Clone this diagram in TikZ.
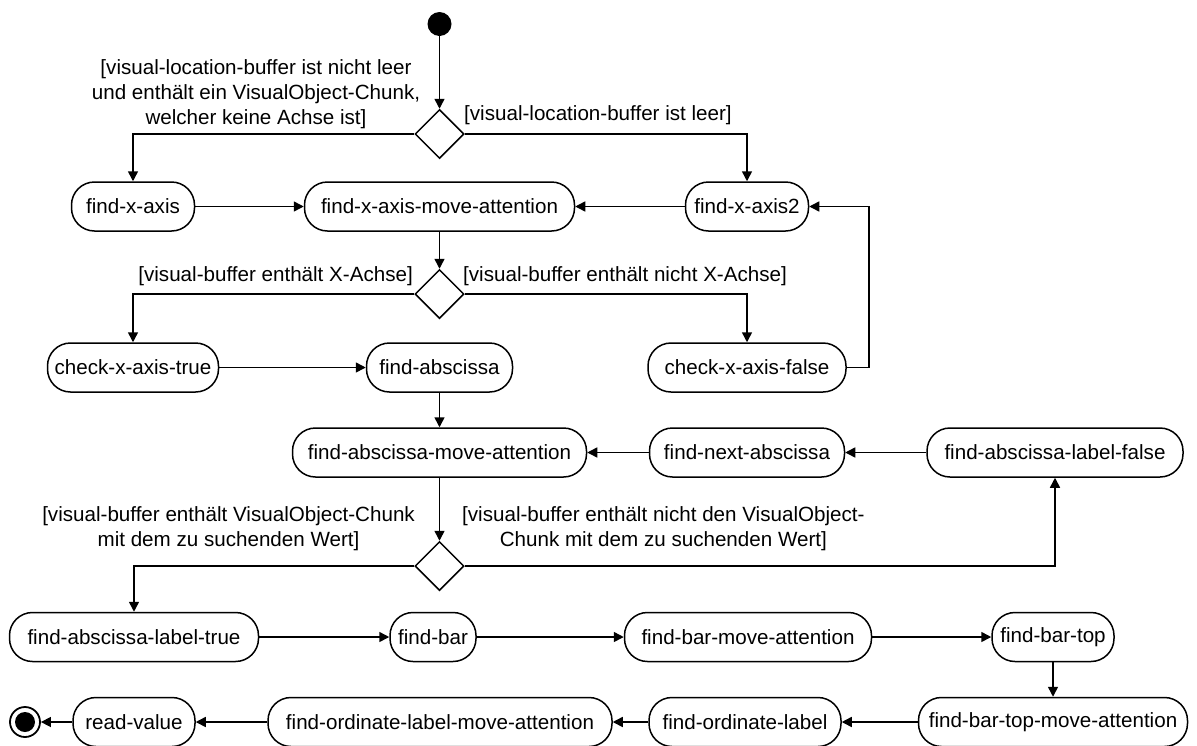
\documentclass[tikz,border=0pt]{standalone}
\usepackage{fontspec}
\setmainfont{Liberation Sans}
\usetikzlibrary{arrows.meta, shapes.geometric}

\begin{document}
\begin{tikzpicture}[
    x=1pt, y=-1pt,
    act/.style={rectangle, draw=black, line width=1.5pt, minimum height=49pt,
                rounded corners=23pt, inner xsep=3pt, text centered,
                font=\fontsize{20.6}{25}\selectfont},
    dec/.style={diamond, draw=black, line width=1.5pt, minimum width=49pt,
                minimum height=49pt, inner sep=0pt},
    guard/.style={font=\fontsize{20.6}{25}\selectfont, inner sep=0pt},
    arr/.style={-{Triangle[length=10pt, width=10pt]}, line width=1.5pt},
]
\useasboundingbox (0,0) rectangle (1197,745);

% Start / end
\node[circle, fill=black, minimum size=24pt, inner sep=0pt] (start) at (439.5,24) {};
\node[circle, draw=black, line width=1.8pt, minimum size=30pt, inner sep=0pt] (fin) at (25,722) {};
\node[circle, fill=black, minimum size=20pt, inner sep=0pt] (finin) at (fin) {};

% Decisions
\node[dec] (d1) at (439.5,134) {};
\node[dec] (d2) at (439.5,294) {};
\node[dec] (d3) at (439.5,566) {};

% Row 1
\node[act, minimum width=123pt] (fxa) at (133,206.5) {find-x-axis};
\node[act, minimum width=270pt] (fxama) at (439.5,206.5) {find-x-axis-move-attention};
\node[act, minimum width=123pt] (fxa2) at (747,206.5) {find-x-axis2};

% Row 2
\node[act, minimum width=171pt] (cxt) at (133,367.5) {check-x-axis-true};
\node[act, minimum width=146pt] (fa) at (439.5,367.5) {find-abscissa};
\node[act, minimum width=198pt] (cxf) at (747,367.5) {check-x-axis-false};

% Row 3
\node[act, minimum width=294pt] (fama) at (439.5,452.5) {find-abscissa-move-attention};
\node[act, minimum width=195pt] (fna) at (747,452.5) {find-next-abscissa};
\node[act, minimum width=256pt] (falf) at (1055,452.5) {find-abscissa-label-false};

% Row 4
\node[act, minimum width=249pt] (falt) at (134,637) {find-abscissa-label-true};
\node[act, minimum width=86pt] (fb) at (433,637) {find-bar};
\node[act, minimum width=247pt] (fbma) at (748,637) {find-bar-move-attention};
\node[act, minimum width=122pt] (fbt) at (1053,637) {find-bar-top};

% Row 5
\node[act, minimum width=122pt] (rv) at (134,722) {read-value};
\node[act, minimum width=344pt] (folma) at (440,722) {find-ordinate-label-move-attention};
\node[act, minimum width=192pt] (fol) at (745,722) {find-ordinate-label};
\node[act, minimum width=269pt] (fbtma) at (1053,722) {find-bar-top-move-attention};

% Guards
\node[guard, align=center] (g1) at (256,94) {[visual-location-buffer ist nicht leer\\und enthält ein VisualObject-Chunk,\\welcher keine Achse ist]};
\node[guard, anchor=west] (g2) at (464,115.5) {[visual-location-buffer ist leer]};
\node[guard, anchor=east] (g3) at (413,276.5) {[visual-buffer enthält X-Achse]};
\node[guard, anchor=west] (g4) at (463,276.5) {[visual-buffer enthält nicht X-Achse]};
\node[guard, align=center, anchor=east] (g5) at (415,529) {[visual-buffer enthält VisualObject-Chunk\\mit dem zu suchenden Wert]};
\node[guard, align=center, anchor=west] (g6) at (462,529) {[visual-buffer enthält nicht den VisualObject-\\Chunk mit dem zu suchenden Wert]};

% Arrows
\draw[arr] (start) -- (d1);
\draw[arr] (d1.west) -| (fxa.north);
\draw[arr] (d1.east) -| (fxa2.north);
\draw[arr] (fxa) -- (fxama);
\draw[arr] (fxa2) -- (fxama);
\draw[arr] (fxama) -- (d2);
\draw[arr] (d2.west) -| (cxt.north);
\draw[arr] (d2.east) -| (cxf.north);
\draw[arr] (cxf.east) -- ++(22,0) |- (fxa2.east);
\draw[arr] (cxt) -- (fa);
\draw[arr] (fa) -- (fama);
\draw[arr] (falf) -- (fna);
\draw[arr] (fna) -- (fama);
\draw[arr] (fama) -- (d3);
\draw[arr] (d3.west) -| (falt.north);
\draw[arr] (d3.east) -| (falf.south);
\draw[arr] (falt) -- (fb);
\draw[arr] (fb) -- (fbma);
\draw[arr] (fbma) -- (fbt);
\draw[arr] (fbt) -- (fbtma);
\draw[arr] (fbtma) -- (fol);
\draw[arr] (fol) -- (folma);
\draw[arr] (folma) -- (rv);
\draw[arr] (rv) -- (fin);

\end{tikzpicture}
\end{document}
